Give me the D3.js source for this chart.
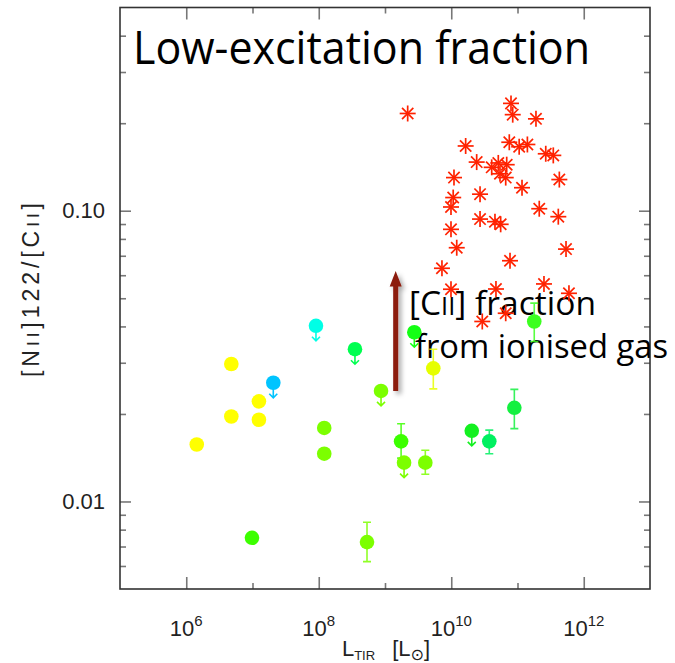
<!DOCTYPE html>
<html>
<head>
<meta charset="utf-8">
<script src="https://cdn.jsdelivr.net/npm/d3@7"></script>
<style>
  body { margin: 0; background: #fff; }
  .axis text { font-family: "Liberation Sans", "DejaVu Sans", sans-serif; font-size: 22px; fill: #222; }
  .axis path { display: none; }
  .axis line { stroke: #777; stroke-width: 1.6; }
</style>
</head>
<body>
<div id="chart"></div>
<script>
// Red asterisks: L_TIR [Lsun] and [NII]122/[CII]
const starLtir = [2.20e9, 7.98e10, 8.47e10, 1.90e11, 1.65e10, 7.52e10, 1.06e11, 1.41e11, 2.67e11, 3.47e11,
  2.42e10, 4.08e10, 5.13e10, 6.87e10, 5.44e10, 6.64e10, 1.10e10, 4.28e11, 1.17e11, 2.72e10,
  1.07e10, 9.91e9, 2.13e11, 4.13e11, 2.72e10, 4.57e10, 5.57e10, 9.91e9, 1.21e10, 5.40e11,
  7.71e10, 7.24e9, 9.91e9, 4.73e10, 2.51e11, 5.98e11, 2.94e10, 6.64e10];
const starRatio = [0.216, 0.234, 0.214, 0.207, 0.167, 0.172, 0.166, 0.169, 0.157, 0.155,
  0.147, 0.141, 0.146, 0.144, 0.134, 0.130, 0.130, 0.128, 0.120, 0.114,
  0.111, 0.103, 0.1016, 0.0954, 0.0936, 0.0917, 0.0898, 0.0863, 0.0746, 0.0738,
  0.0673, 0.0634, 0.0537, 0.0538, 0.0560, 0.0520, 0.0416, 0.0444];

// Coloured circles (null = no error bar)
const dotLtir  = [4.79e6, 1.25e7, 4.79e6, 1.25e7, 1.44e6, 2.06e7, 9.08e7, 3.52e8, 2.77e9, 5.36e9,
  8.71e8, 1.21e8, 1.21e8, 1.75e9, 1.94e9, 4.06e9, 9.82e6, 5.35e8, 1.79e11, 8.96e10, 2.04e10, 3.75e10];
const dotRatio = [0.0297, 0.0221, 0.0196, 0.0191, 0.0157, 0.0256, 0.0402, 0.0334, 0.0382, 0.0287,
  0.0240, 0.0179, 0.0146, 0.0161, 0.0136, 0.0136, 0.0075, 0.00725, 0.0416, 0.0210, 0.0175, 0.0161];
const dotErrLo = [null, null, null, null, null, null, null, null, null, 0.0244,
  null, null, null, 0.0141, null, 0.0124, null, 0.00621, 0.0355, 0.0178, null, 0.0146];
const dotErrHi = [null, null, null, null, null, null, null, null, null, 0.0334,
  null, null, null, 0.0185, null, 0.0150, null, 0.00848, 0.0481, 0.0243, null, 0.0176];
const dotUpper = [false, false, false, false, false, true, true, true, true, false,
  true, false, false, false, true, false, false, false, false, false, true, false];
const dotColor = ["#ffff00", "#ffff00", "#ffff00", "#ffff00", "#ffff00", "#00c4ff", "#00ffe6", "#00ff50", "#14ff14", "#e6ff00",
  "#7cff00", "#7cff00", "#7cff00", "#3cff00", "#7cff00", "#7cff00", "#3cff00", "#7cff00", "#3cff20", "#14f040", "#14f020", "#00f060"];

// Ticks
const xMajor = [1e6, 1e8, 1e10, 1e12];
const xMajorExp = ["6", "8", "10", "12"];
const xMinor = [1e7, 1e9, 1e11];
const yMajor = [0.01, 0.1];
const yMajorLabels = ["0.01", "0.10"];
const yMinor = [0.006, 0.007, 0.008, 0.009, 0.02, 0.03, 0.04, 0.05, 0.06, 0.07, 0.08, 0.09, 0.2, 0.3, 0.4];

const W = 675, H = 663;
const frame = { left: 120, right: 650, top: 7.5, bottom: 589 };

var x = d3.scaleLog().domain([1e5, 1e13]).range([frame.left, frame.right]);
var y = d3.scaleLog().domain([0.005, 0.5]).range([frame.bottom, frame.top]);

const svg = d3.select("#chart").append("svg")
  .attr("width", W)
  .attr("height", H);

// drop shadow for the annotation arrow
const defs = svg.append("defs");
const shadow = defs.append("filter").attr("id", "shadow")
  .attr("x", "-50%").attr("y", "-20%").attr("width", "250%").attr("height", "140%");
shadow.append("feDropShadow")
  .attr("dx", 3).attr("dy", 3).attr("stdDeviation", 2.5)
  .attr("flood-color", "#000").attr("flood-opacity", 0.35);

// Ticks: bottom / top / right, all pointing inwards
function tickAxis(axisFn, scale, values, size, tr) {
  svg.append("g")
    .attr("class", "axis")
    .attr("transform", tr)
    .call(axisFn(scale).tickValues(values).tickSizeInner(size).tickSizeOuter(0).tickFormat(""));
}
tickAxis(d3.axisBottom, x, xMajor, -12, "translate(0," + frame.bottom + ")");
tickAxis(d3.axisBottom, x, xMinor, -6, "translate(0," + frame.bottom + ")");
tickAxis(d3.axisTop, x, xMajor, -12, "translate(0," + frame.top + ")");
tickAxis(d3.axisTop, x, xMinor, -6, "translate(0," + frame.top + ")");
tickAxis(d3.axisLeft, y, yMinor, -6, "translate(" + frame.left + ",0)");
tickAxis(d3.axisRight, y, yMajor, -11, "translate(" + frame.right + ",0)");
tickAxis(d3.axisRight, y, yMinor, -6, "translate(" + frame.right + ",0)");

// left axis with labels
svg.append("g")
  .attr("class", "axis")
  .attr("transform", "translate(" + frame.left + ",0)")
  .call(d3.axisLeft(y).tickValues(yMajor).tickSizeInner(-11).tickSizeOuter(0).tickPadding(15)
    .tickFormat(function (d, i) { return yMajorLabels[i]; }));

// x tick labels with exponents
const xlab = svg.append("g").attr("class", "axis");
xMajor.forEach(function (v, i) {
  var t = xlab.append("text")
    .attr("x", x(v))
    .attr("y", frame.bottom + 47)
    .attr("text-anchor", "middle");
  t.append("tspan").text("10");
  t.append("tspan").attr("dy", -10).style("font-size", "15px").text(xMajorExp[i]);
});

// frame
svg.append("rect")
  .attr("x", frame.left).attr("y", frame.top)
  .attr("width", frame.right - frame.left)
  .attr("height", frame.bottom - frame.top)
  .attr("fill", "none")
  .attr("stroke", "#333")
  .attr("stroke-width", 1.6);

// axis titles
const xTitle = svg.append("text")
  .attr("x", 386).attr("y", 656)
  .attr("text-anchor", "middle")
  .style("font-family", "'Liberation Sans', sans-serif")
  .style("font-size", "22px").style("fill", "#222");
xTitle.append("tspan").text("L");
xTitle.append("tspan").attr("dy", 4).style("font-size", "13px").text("TIR");
xTitle.append("tspan").attr("dy", -4).text("\u2002 [L");
xTitle.append("tspan").attr("dy", 4).style("font-size", "16px").style("font-family", "'DejaVu Sans', sans-serif").text("\u2299");
xTitle.append("tspan").attr("dy", -4).text("]");

const yTitle = svg.append("text")
  .attr("transform", "translate(39,290) rotate(-90)")
  .attr("text-anchor", "middle")
  .attr("textLength", 174)
  .attr("lengthAdjust", "spacing")
  .style("font-family", "'Liberation Sans', sans-serif")
  .style("font-size", "23px").style("fill", "#222");
yTitle.append("tspan").text("[N");
yTitle.append("tspan").style("font-size", "17px").text("II");
yTitle.append("tspan").text("]122/[C");
yTitle.append("tspan").style("font-size", "17px").text("II");
yTitle.append("tspan").text("]");

// big title
svg.append("text")
  .attr("x", 133).attr("y", 64)
  .attr("textLength", 457)
  .attr("lengthAdjust", "spacingAndGlyphs")
  .style("font-family", "'Open Sans', sans-serif")
  .style("font-size", "45px").style("fill", "#000")
  .text("Low-excitation fraction");

// annotation arrow + text
const arrowX = x(1.45e9);
svg.append("path")
  .attr("d", "M" + (arrowX - 2.5) + "," + y(0.0240) + "V" + y(0.0549) + "H" + (arrowX - 6) +
    "L" + arrowX + "," + y(0.0620) + "L" + (arrowX + 6) + "," + y(0.0549) + "H" + (arrowX + 2.5) + "V" + y(0.0240) + "Z")
  .attr("fill", "#8c1a0c")
  .attr("filter", "url(#shadow)");

const note1 = svg.append("text")
  .attr("x", 409).attr("y", 315)
  .attr("textLength", 187)
  .attr("lengthAdjust", "spacingAndGlyphs")
  .style("font-family", "'Open Sans', sans-serif")
  .style("font-size", "33px").style("fill", "#000");
note1.append("tspan").text("[C");
note1.append("tspan").style("font-size", "25px").text("II");
note1.append("tspan").text("] fraction");

svg.append("text")
  .attr("x", 415).attr("y", 358)
  .attr("textLength", 253)
  .attr("lengthAdjust", "spacingAndGlyphs")
  .style("font-family", "'Open Sans', sans-serif")
  .style("font-size", "33px").style("fill", "#000")
  .text("from ionised gas");

// red asterisks
const stars = svg.append("g").attr("class", "stars");
const armLen = 8;
starLtir.forEach(function (v, i) {
  var cx = x(v), cy = y(starRatio[i]);
  [0, 45, 90, 135].forEach(function (a) {
    var r = a * Math.PI / 180;
    stars.append("line")
      .attr("x1", cx - armLen * Math.cos(r)).attr("y1", cy - armLen * Math.sin(r))
      .attr("x2", cx + armLen * Math.cos(r)).attr("y2", cy + armLen * Math.sin(r))
      .attr("stroke", "#ff2200")
      .attr("stroke-width", 1.7);
  });
});

// circles with error bars / upper limits
const dots = svg.append("g").attr("class", "dots");
dotLtir.forEach(function (v, i) {
  var cx = x(v), cy = y(dotRatio[i]), c = dotColor[i];
  if (dotErrLo[i] !== null) {
    var y1 = y(dotErrHi[i]), y2 = y(dotErrLo[i]);
    dots.append("path")
      .attr("d", "M" + cx + "," + y1 + "V" + y2 + "M" + (cx - 4) + "," + y1 + "H" + (cx + 4) +
        "M" + (cx - 4) + "," + y2 + "H" + (cx + 4))
      .attr("stroke", c).attr("stroke-width", 1.6).attr("fill", "none").attr("opacity", 0.85);
  }
  if (dotUpper[i]) {
    dots.append("path")
      .attr("d", "M" + cx + "," + cy + "V" + (cy + 15) + "M" + (cx - 4) + "," + (cy + 11) +
        "L" + cx + "," + (cy + 15) + "L" + (cx + 4) + "," + (cy + 11))
      .attr("stroke", c).attr("stroke-width", 1.6).attr("fill", "none");
  }
  dots.append("circle")
    .attr("cx", cx).attr("cy", cy).attr("r", 7.3)
    .attr("fill", c);
});
</script>
</body>
</html>
